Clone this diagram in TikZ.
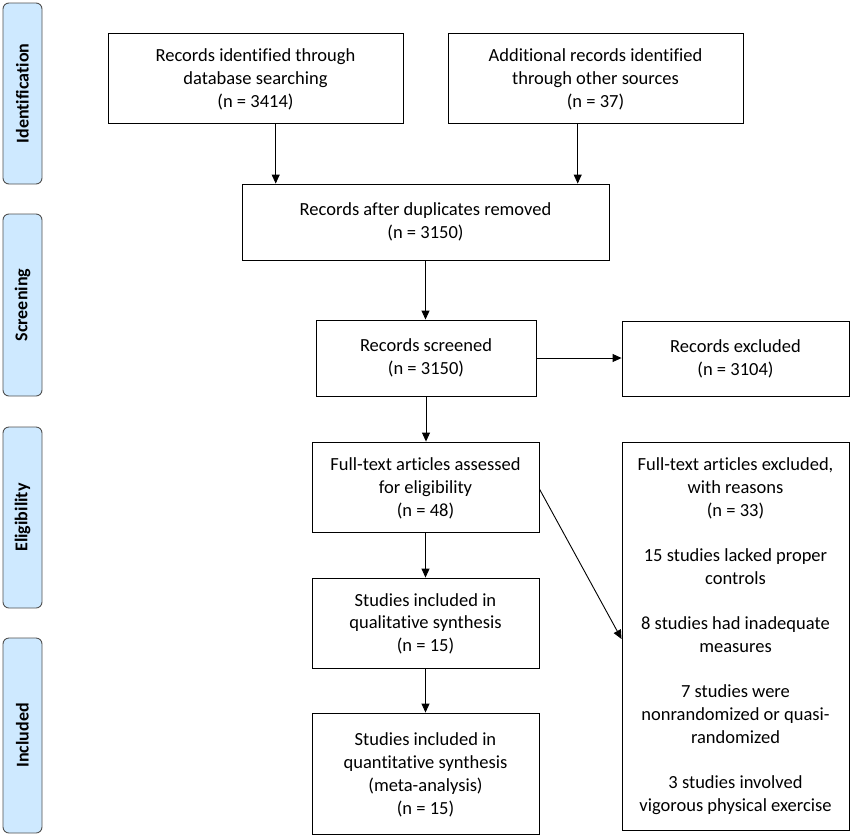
\documentclass[tikz,border=0pt]{standalone}
\usepackage{fontspec}
\setmainfont{Carlito}[Ligatures=NoCommon]
\usetikzlibrary{arrows.meta}
\definecolor{phasefill}{RGB}{206,233,255}
\definecolor{phaseline}{RGB}{80,80,80}
\tikzset{
  flowbox/.style={draw, line width=0.9pt, align=center, inner sep=2pt,
    font=\fontsize{18.5}{22.8}\selectfont},
  lowered/.style={text depth=#1},
  phasebox/.style={draw=phaseline, fill=phasefill, line width=0.9pt, rounded corners=6pt,
    minimum height=39pt, rotate=90, font=\bfseries\fontsize{18}{20}\selectfont},
  arrow/.style={line width=0.9pt, -{Triangle[length=9pt,width=8pt]}}
}
\begin{document}
\begin{tikzpicture}[x=1pt,y=-1pt]
	\useasboundingbox (0,0) rectangle (853,836);
	% phases on the left
	\node[phasebox, minimum width=181pt] (ident) at (22.5,93.5) {Identification};
	\node[phasebox, minimum width=182pt] (screen) at (22.5,305) {Screening};
	\node[phasebox, minimum width=181pt] (elig) at (22.5,517.5) {Eligibility};
	\node[phasebox, minimum width=195pt] (incl) at (22.5,735.5) {Included};

	% flow boxes
	\node[flowbox, lowered=-3.5pt, minimum width=295pt, minimum height=90pt] (dbase) at (255.5,78)
	  {Records identified through\\database searching\\(n = 3414)};
	\node[flowbox, lowered=-3.5pt, minimum width=295pt, minimum height=90pt] (other) at (595.5,78)
	  {Additional records identified\\through other sources\\(n = 37)};
	\node[flowbox, minimum width=367pt, minimum height=76pt] (dupl) at (425.5,222)
	  {Records after duplicates removed\\(n = 3150)};
	\node[flowbox, minimum width=220pt, minimum height=76pt] (scrd) at (426,358)
	  {Records screened\\(n = 3150)};
	\node[flowbox, minimum width=227pt, minimum height=75pt] (excl) at (735.5,358.5)
	  {Records excluded\\(n = 3104)};
	\node[flowbox, lowered=0pt, minimum width=227pt, minimum height=90pt] (full) at (425.5,487)
	  {Full-text articles assessed\\for eligibility\\(n = 48)};
	\node[flowbox, minimum width=227pt, minimum height=388pt] (fexcl) at (735.5,636)
	  {Full-text articles excluded,\\with reasons\\(n = 33)\\[22.5pt]
	   15 studies lacked proper\\controls\\[22.5pt]
	   8 studies had inadequate\\measures\\[22.5pt]
	   7 studies were\\nonrandomized or quasi-\\randomized\\[22.5pt]
	   3 studies involved\\vigorous physical exercise};
	\node[flowbox, lowered=1pt, minimum width=227pt, minimum height=90pt] (qual) at (425.5,623)
	  {Studies included in\\qualitative synthesis\\(n = 15)};
	\node[flowbox, lowered=-4.5pt, minimum width=227pt, minimum height=121pt] (quant) at (425.5,773.5)
	  {Studies included in\\quantitative synthesis\\(meta-analysis)\\(n = 15)};

	% connectors
	\draw[arrow] ([xshift=20.2pt]dbase.south) -- ([xshift=20.2pt]dbase.south |- dupl.north);
	\draw[arrow] ([xshift=-17.8pt]other.south) -- ([xshift=-17.8pt]other.south |- dupl.north);
	\draw[arrow] (dupl.south) -- (dupl.south |- scrd.north);
	\draw[arrow] (scrd.east) -- (excl.west |- scrd.east);
	\draw[arrow] (scrd.south) -- (scrd.south |- full.north);
	\draw[arrow] ([yshift=-2pt]full.east) -- ([yshift=-3pt]fexcl.west);
	\draw[arrow] (full.south) -- (full.south |- qual.north);
	\draw[arrow] (qual.south) -- (qual.south |- quant.north);
\end{tikzpicture}
\end{document}
